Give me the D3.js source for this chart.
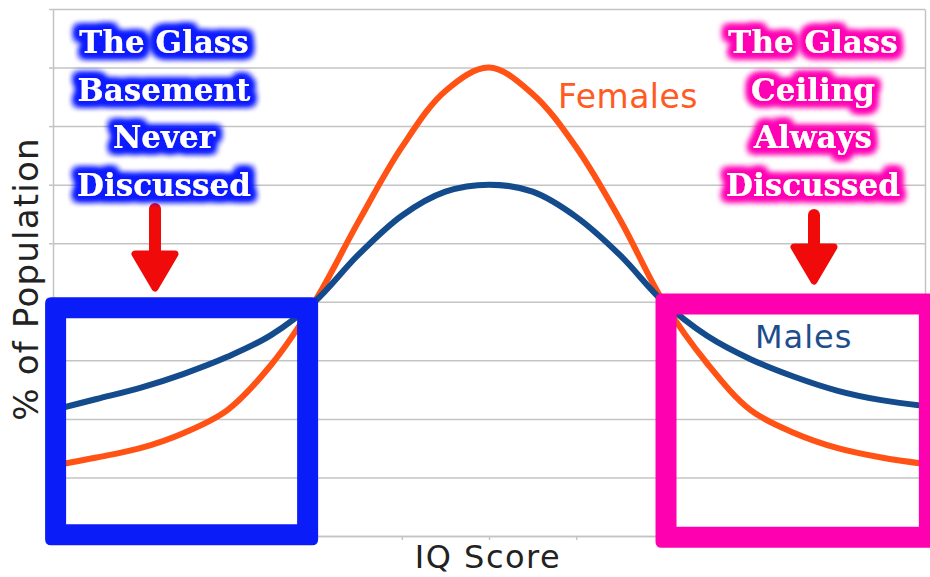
<!DOCTYPE html>
<html>
<head>
<meta charset="utf-8">
<script src="https://cdnjs.cloudflare.com/ajax/libs/d3/7.8.5/d3.min.js"></script>
<style>
    body { margin: 0; background: #fff; }
    svg { display: block; }
    .grid line { stroke: #c4c4c4; stroke-width: 1.5; }
    .grid path { display: none; }
    .axis path, .axis line { stroke: #c4c4c4; stroke-width: 1.5; }
    .axis text { display: none; }
</style>
</head>
<body>
<svg class="iq-chart" width="930" height="577"></svg>
<script>
"use strict";

// IQ score samples along the x axis
var iqScores = [50, 55, 60, 65, 70, 75, 80, 85, 90, 95, 100, 105, 110, 115, 120, 125, 130, 135, 140, 145, 150];
// % of population (gridline units)
var femaleValues = [1.20, 1.34, 1.50, 1.76, 2.15, 2.92, 4.00, 5.36, 6.64, 7.60, 8.00, 7.55, 6.64, 5.41, 4.00, 2.95, 2.15, 1.76, 1.50, 1.34, 1.23];
var maleValues = [2.15, 2.34, 2.53, 2.77, 3.06, 3.43, 4.00, 4.80, 5.47, 5.88, 6.00, 5.88, 5.45, 4.80, 4.00, 3.42, 3.02, 2.72, 2.48, 2.32, 2.22];
var xTicks = [50, 60, 70, 80, 90, 100, 110, 120, 130, 140, 150];
var yTicks = [0, 1, 2, 3, 4, 5, 6, 7, 8, 9];

var basementLines = ["The Glass", "Basement", "Never", "Discussed"];
var ceilingLines = ["The Glass", "Ceiling", "Always", "Discussed"];

function drawChart() {
    var svg = d3.select("svg.iq-chart");
    var margin = { top: 9, right: 5, bottom: 41, left: 53 };
    var width = +svg.attr("width") - margin.left - margin.right;
    var height = +svg.attr("height") - margin.top - margin.bottom;

    var x = d3.scaleLinear().domain([50, 150]).range([margin.left, margin.left + width]);
    var y = d3.scaleLinear().domain([0, 9]).range([margin.top + height, margin.top]);

    var defs = svg.append("defs");
    addGlow(defs, "glow-blue", "#0a1cff");
    addGlow(defs, "glow-pink", "#ff00b4");

    // horizontal gridlines
    svg.append("g").attr("class", "grid").attr("transform", "translate(" + margin.left + ",0)")
        .call(d3.axisLeft(y).tickValues(yTicks).tickSize(-width).tickFormat(""));

    // frame
    svg.append("g").attr("class", "axis").attr("transform", "translate(" + margin.left + ",0)")
        .call(d3.axisLeft(y).tickValues(yTicks).tickSizeInner(4).tickSizeOuter(0));
    svg.append("g").attr("class", "axis").attr("transform", "translate(" + (margin.left + width) + ",0)")
        .call(d3.axisRight(y).tickValues([]).tickSizeOuter(0));
    svg.append("g").attr("class", "axis").attr("transform", "translate(0," + (margin.top + height) + ")")
        .call(d3.axisBottom(x).tickValues(xTicks).tickSizeInner(4).tickSizeOuter(0));

    var series = [
        { name: "Females", values: femaleValues, color: "#ff5214" },
        { name: "Males", values: maleValues, color: "#144b8c" }
    ];

    var line = d3.line().curve(d3.curveCatmullRom.alpha(0.5))
        .x(function (d) { return x(d[0]); })
        .y(function (d) { return y(d[1]); });

    svg.selectAll(".curve").data(series).enter().append("path")
        .attr("class", "curve")
        .attr("fill", "none")
        .attr("stroke", function (d) { return d.color; })
        .attr("stroke-width", 6)
        .attr("stroke-linecap", "round")
        .attr("d", function (d) {
            return line(iqScores.map(function (iq, i) { return [iq, d.values[i]]; }));
        });

    svg.append("text").attr("x", 558).attr("y", 108)
        .attr("fill", "#ff5a24").style("font", "33px 'DejaVu Sans'").style("letter-spacing", "0.5px")
        .text("Females");
    svg.append("text").attr("x", 755).attr("y", 348)
        .attr("fill", "#1e4d8c").style("font", "32px 'DejaVu Sans'").style("letter-spacing", "1px")
        .text("Males");

    // axis titles
    svg.append("text").attr("x", 488).attr("y", 568).attr("text-anchor", "middle")
        .attr("fill", "#222").style("font", "32px 'DejaVu Sans'").style("letter-spacing", "1.5px")
        .text("IQ Score");
    svg.append("text").attr("transform", "translate(38,279) rotate(-90)").attr("text-anchor", "middle")
        .attr("fill", "#222").style("font", "34px 'DejaVu Sans'").style("letter-spacing", "1.2px")
        .text("% of Population");

    // highlight boxes
    drawBox(svg, x(50.3), x(79.2), y(3.9), y(0.02), "#0a1cf8");
    drawBox(svg, x(120.3), x(150.5), y(3.96), y(-0.02), "#ff00b0");

    drawArrow(svg, 155, 203, 292, "#f00a0a");
    drawArrow(svg, 814, 209, 285, "#f00a0a");

    drawNote(svg, basementLines, 164, "url(#glow-blue)");
    drawNote(svg, ceilingLines, 813, "url(#glow-pink)");
}

function addGlow(defs, id, color) {
    var f = defs.append("filter").attr("id", id)
        .attr("x", "-30%").attr("y", "-60%").attr("width", "160%").attr("height", "220%");
    f.append("feMorphology").attr("in", "SourceAlpha").attr("operator", "dilate").attr("radius", 4).attr("result", "dil");
    f.append("feGaussianBlur").attr("in", "dil").attr("stdDeviation", 3.5).attr("result", "blur");
    f.append("feFlood").attr("flood-color", color).attr("result", "col");
    f.append("feComposite").attr("in", "col").attr("in2", "blur").attr("operator", "in").attr("result", "glow");
    var m = f.append("feMerge");
    m.append("feMergeNode").attr("in", "glow");
    m.append("feMergeNode").attr("in", "glow");
    m.append("feMergeNode").attr("in", "glow");
    m.append("feMergeNode").attr("in", "SourceGraphic");
}

function drawBox(svg, x0, x1, y0, y1, color) {
    var sw = 21, h = sw / 2, r = 6;
    var outer = "M" + (x0 - h + r) + "," + (y0 - h) +
        "H" + (x1 + h - r) + "Q" + (x1 + h) + "," + (y0 - h) + " " + (x1 + h) + "," + (y0 - h + r) +
        "V" + (y1 + h - r) + "Q" + (x1 + h) + "," + (y1 + h) + " " + (x1 + h - r) + "," + (y1 + h) +
        "H" + (x0 - h + r) + "Q" + (x0 - h) + "," + (y1 + h) + " " + (x0 - h) + "," + (y1 + h - r) +
        "V" + (y0 - h + r) + "Q" + (x0 - h) + "," + (y0 - h) + " " + (x0 - h + r) + "," + (y0 - h) + "Z";
    var inner = "M" + (x0 + h) + "," + (y0 + h) + "H" + (x1 - h) + "V" + (y1 - h) + "H" + (x0 + h) + "Z";
    svg.append("path").attr("d", outer + inner).attr("fill", color).attr("fill-rule", "evenodd");
}

function drawArrow(svg, cx, top, tip, color) {
    var headTop = tip - 38;
    svg.append("line").attr("x1", cx).attr("x2", cx).attr("y1", top + 6).attr("y2", headTop + 4)
        .attr("stroke", color).attr("stroke-width", 12).attr("stroke-linecap", "round");
    svg.append("path")
        .attr("d", "M" + (cx - 20) + "," + headTop + "L" + (cx + 20) + "," + headTop + "L" + cx + "," + (tip - 4) + "Z")
        .attr("fill", color).attr("stroke", color).attr("stroke-width", 7).attr("stroke-linejoin", "round");
}

function drawNote(svg, lines, cx, filter) {
    svg.append("g").attr("filter", filter).selectAll("text").data(lines).enter().append("text")
        .attr("x", cx)
        .attr("y", function (d, i) { return 53 + i * 47.5; })
        .attr("text-anchor", "middle")
        .attr("fill", "#fff")
        .style("font", "bold 31px 'DejaVu Serif'")
        .text(function (d) { return d; });
}

drawChart();
</script>
</body>
</html>
